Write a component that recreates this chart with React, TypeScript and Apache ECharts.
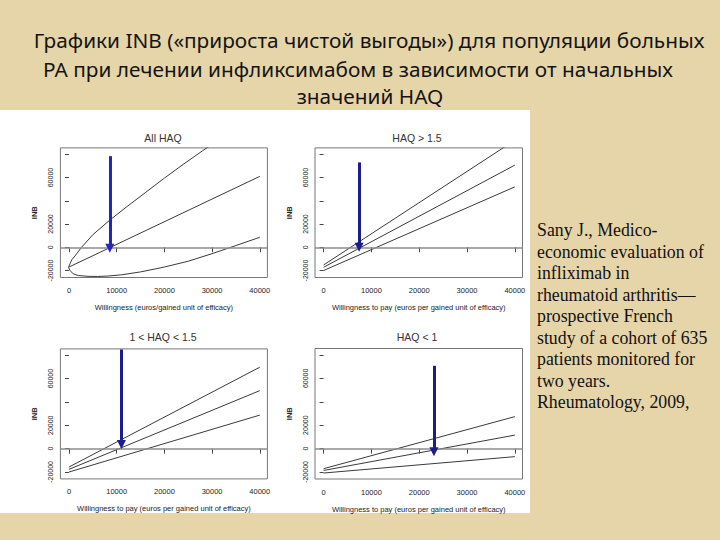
import React, { useEffect, useRef } from 'react';
import * as echarts from 'echarts';

// ---------- data ----------
const X_TICKS = [0, 10000, 20000, 30000, 40000];
const Y_TICKS = [-20000, 0, 20000, 40000, 60000, 80000];
const Y_LABELS = [-20000, 0, 20000, 60000];

// All HAQ
const allMidX = [0, 40000];
const allMidY = [-17000, 61000];
// confidence band (upper branch then lower branch, one continuous curve)
const allBandX = [30000, 28000, 24000, 20000, 16000, 12000, 8560, 5000, 2640, 1250, 560, 210, -100,
  210, 900, 1950, 4000, 6000, 8000, 11000, 15000, 20000, 25000, 30000, 35000, 40000];
const allBandY = [88500, 83000, 71500, 59500, 47000, 34500, 23400, 10800, 0, -7500, -10900, -14300, -17170,
  -20000, -22900, -24300, -25000, -25100, -24800, -23700, -21200, -17000, -12000, -5500, 1500, 8600];

// HAQ > 1.5
const hiX = [0, 40000];
const hiUpper = [-15200, 92100];
const hiMid = [-17200, 70700];
const hiLower = [-20000, 52000];

// 1 < HAQ < 1.5
const midX = [0, 40000];
const midUpper = [-15800, 69800];
const midMid = [-17800, 49700];
const midLower = [-20100, 28700];

// HAQ < 1
const loX = [0, 40000];
const loUpper = [-17200, 27300];
const loMid = [-18700, 11500];
const loLower = [-20900, -6900];

// arrows: [x, from, to]
const arrows = [
  [8560, 78400, -900],
  [7430, 73000, 0],
  [11000, 85000, 3500],
  [23080, 70700, -2800],
];

const TITLE_LINES = [
  'Графики INB («прироста чистой выгоды») для популяции больных',
  'РА при лечении инфликсимабом в зависимости от начальных',
  'значений HAQ',
];
const CITATION = [
  'Sany J., Medico-',
  'economic evaluation of',
  'infliximab in',
  'rheumatoid arthritis—',
  'prospective French',
  'study of a cohort of 635',
  'patients monitored for',
  'two years.',
  'Rheumatology, 2009,',
];

const zip = (xs: number[], ys: number[]) => xs.map((x, i) => [x, ys[i]]);

const panels = [
  { grid: { left: 60.4, top: 147.9, width: 207, height: 129.6 }, title: 'All HAQ', tx: 163, ty: 138,
    xName: 'Willingness (euros/gained unit of efficacy)', arrowColor: '#2424c0',
    curves: [zip(allBandX, allBandY), zip(allMidX, allMidY)] },
  { grid: { left: 315, top: 147.9, width: 207.5, height: 129.6 }, title: 'HAQ > 1.5', tx: 417, ty: 138,
    xName: 'Willingness to pay (euros per gained unit of efficacy)', arrowColor: '#1c1c8c',
    curves: [zip(hiX, hiUpper), zip(hiX, hiMid), zip(hiX, hiLower)] },
  { grid: { left: 60.4, top: 348.9, width: 207, height: 130 }, title: '1 < HAQ < 1.5', tx: 163, ty: 337,
    xName: 'Willingness to pay (euros per gained unit of efficacy)', arrowColor: '#1c1c8c',
    curves: [zip(midX, midUpper), zip(midX, midMid), zip(midX, midLower)] },
  { grid: { left: 315, top: 348.5, width: 207.5, height: 130.5 }, title: 'HAQ < 1', tx: 417, ty: 337,
    xName: 'Willingness to pay (euros per gained unit of efficacy)', arrowColor: '#1c1c8c',
    curves: [zip(loX, loUpper), zip(loX, loMid), zip(loX, loLower)] },
];

const AX_FONT = 'Liberation Sans';

function buildOption() {
  const grid: any[] = [];
  const xAxis: any[] = [];
  const yAxis: any[] = [];
  const series: any[] = [];
  const graphic: any[] = [];

  graphic.push({ type: 'rect', z: -10, shape: { x: 0, y: 110, width: 530, height: 403 }, style: { fill: '#ffffff' } });

  TITLE_LINES.forEach((t, i) => {
    graphic.push({
      type: 'text', x: [369, 358, 370][i], y: [40, 69, 96][i],
      style: { text: t, font: '20.8px "Noto Sans"', fill: '#141414', textAlign: 'center', textVerticalAlign: 'middle' },
    });
  });
  CITATION.forEach((t, i) => {
    graphic.push({
      type: 'text', x: 537, y: 230 + 21.5 * i,
      style: { text: t, font: '17.8px "Liberation Serif"', fill: '#111', textAlign: 'left', textVerticalAlign: 'middle' },
    });
  });

  panels.forEach((p, i) => {
    grid.push({ ...p.grid, show: true, borderColor: '#777', borderWidth: 1, backgroundColor: 'transparent' });
    graphic.push({
      type: 'text', x: p.tx, y: p.ty,
      style: { text: p.title, font: `10.5px "${AX_FONT}"`, fill: '#333', textAlign: 'center', textVerticalAlign: 'middle' },
    });
    xAxis.push({
      type: 'value', gridIndex: i, min: -1800, max: 41600, offset: 3,
      axisLine: { show: false },
      axisTick: { show: true, length: 5, customValues: X_TICKS, lineStyle: { color: '#444' } },
      axisLabel: { customValues: X_TICKS, fontSize: 7.5, fontFamily: AX_FONT, color: '#222', margin: 6, formatter: (v: number) => String(v) },
      splitLine: { show: false },
      name: p.xName, nameLocation: 'middle', nameGap: 23,
      nameTextStyle: { fontSize: 7.5, fontFamily: AX_FONT, color: '#222' },
    });
    yAxis.push({
      type: 'value', gridIndex: i, min: -26000, max: 85500,
      axisLine: { show: false },
      axisTick: { show: true, length: 4, customValues: Y_TICKS, lineStyle: { color: '#444' } },
      axisLabel: { customValues: Y_LABELS, rotate: 90, fontSize: 7, fontFamily: AX_FONT, color: '#222', margin: 6, formatter: (v: number) => String(v) },
      splitLine: { show: false },
      name: 'INB', nameLocation: 'middle', nameGap: 22,
      nameTextStyle: { fontSize: 7.5, fontWeight: 'bold', fontFamily: AX_FONT, color: '#222' },
    });
    p.curves.forEach((c, k) => {
      series.push({
        type: 'line', xAxisIndex: i, yAxisIndex: i, data: c, showSymbol: false, silent: true,
        lineStyle: { color: '#3a3a3a', width: 1 }, z: 3,
        markLine: k === 0 ? {
          silent: true, symbol: 'none', label: { show: false },
          lineStyle: { color: '#8c8c8c', width: 1.5, type: 'solid' },
          data: [{ yAxis: 0 }],
        } : undefined,
      });
    });
    const a = arrows[i];
    series.push({
      type: 'line', xAxisIndex: i, yAxisIndex: i, data: [], clip: false, silent: true, z: 5,
      markLine: {
        silent: true, symbol: ['none', 'triangle'], symbolSize: [9, 9], label: { show: false },
        lineStyle: { color: p.arrowColor, width: 3, type: 'solid' },
        itemStyle: { color: p.arrowColor },
        data: [[{ coord: [a[0], a[1]] }, { coord: [a[0], a[2]] }]],
      },
    });
  });

  return {
    animation: false,
    backgroundColor: '#e7d5aa',
    grid, xAxis, yAxis, series, graphic,
  };
}

export default function App() {
  const ref = useRef<HTMLDivElement>(null);
  useEffect(() => {
    const chart = echarts.init(ref.current!, null, { renderer: 'svg', width: 720, height: 540 });
    chart.setOption(buildOption() as any);
    return () => chart.dispose();
  }, []);
  return <div ref={ref} style={{ position: 'absolute', left: 0, top: 0, width: 720, height: 540 }} />;
}
